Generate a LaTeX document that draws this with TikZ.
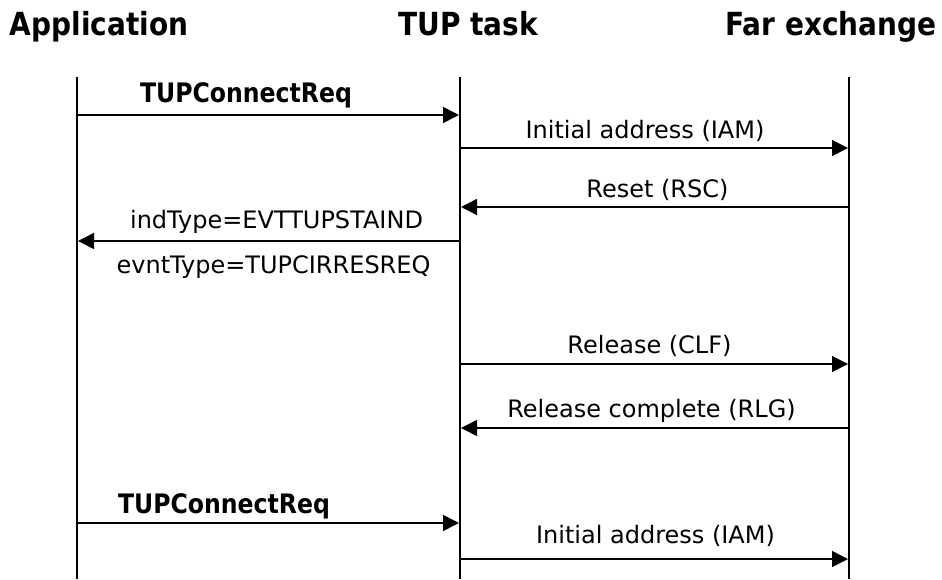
\documentclass[tikz,border=0pt]{standalone}
\usepackage{fontspec}
\setmainfont{DejaVu Sans}[BoldFeatures={FakeStretch=0.88}]
\usetikzlibrary{arrows.meta}
\begin{document}
\begin{tikzpicture}[x=1pt,y=-1pt,
  lifeline/.style={line width=1.6pt},
  msg/.style={line width=1.5pt,-{Triangle[length=16pt,width=16pt]},shorten >=1pt},
  hdr/.style={anchor=base,inner sep=0pt,font=\fontsize{31.8}{36}\selectfont\bfseries},
  lbl/.style={anchor=base,inner sep=0pt,font=\fontsize{24}{28}\selectfont},
  blbl/.style={anchor=base,inner sep=0pt,font=\fontsize{26.8}{30}\selectfont\bfseries}]
\useasboundingbox (0,0) rectangle (942,579);
% headers
\node[hdr] (hA) at (99,35) {Application};
\node[hdr] (hB) at (468,35) {TUP task};
\node[hdr] (hC) at (831,35) {Far exchange};
% lifelines
\coordinate (At) at (77,77); \coordinate (Ab) at (77,579);
\coordinate (Bt) at (460,77); \coordinate (Bb) at (460,579);
\coordinate (Ct) at (849,77); \coordinate (Cb) at (849,579);
\draw[lifeline] (At) -- (Ab);
\draw[lifeline] (Bt) -- (Bb);
\draw[lifeline] (Ct) -- (Cb);
% message end points
\coordinate (a1) at (77,115);  \coordinate (b1) at (460,115);
\coordinate (b2) at (460,148); \coordinate (c2) at (849,148);
\coordinate (c3) at (849,207); \coordinate (b3) at (460,207);
\coordinate (b4) at (460,241); \coordinate (a4) at (77,241);
\coordinate (b5) at (460,364); \coordinate (c5) at (849,364);
\coordinate (c6) at (849,428); \coordinate (b6) at (460,428);
\coordinate (a7) at (77,523);  \coordinate (b7) at (460,523);
\coordinate (b8) at (460,559); \coordinate (c8) at (849,559);
% messages
\draw[msg] (a1) -- (b1);
\draw[msg] (b2) -- (c2);
\draw[msg] (c3) -- (b3);
\draw[msg] (b4) -- (a4);
\draw[msg] (b5) -- (c5);
\draw[msg] (c6) -- (b6);
\draw[msg] (a7) -- (b7);
\draw[msg] (b8) -- (c8);
% labels
\node[blbl] (l1) at (246,102) {TUPConnectReq};
\node[lbl] (l2) at (645,138) {Initial address (IAM)};
\node[lbl] (l3) at (657.5,197) {Reset (RSC)};
\node[lbl] (l4) at (276.5,228) {indType=EVTTUPSTAIND};
\node[lbl] (l4b) at (273.5,273) {evntType=TUPCIRRESREQ};
\node[lbl] (l5) at (649.5,353) {Release (CLF)};
\node[lbl] (l6) at (651.5,417) {Release complete (RLG)};
\node[blbl] (l7) at (224,513) {TUPConnectReq};
\node[lbl] (l8) at (655.5,543) {Initial address (IAM)};
\end{tikzpicture}
\end{document}
